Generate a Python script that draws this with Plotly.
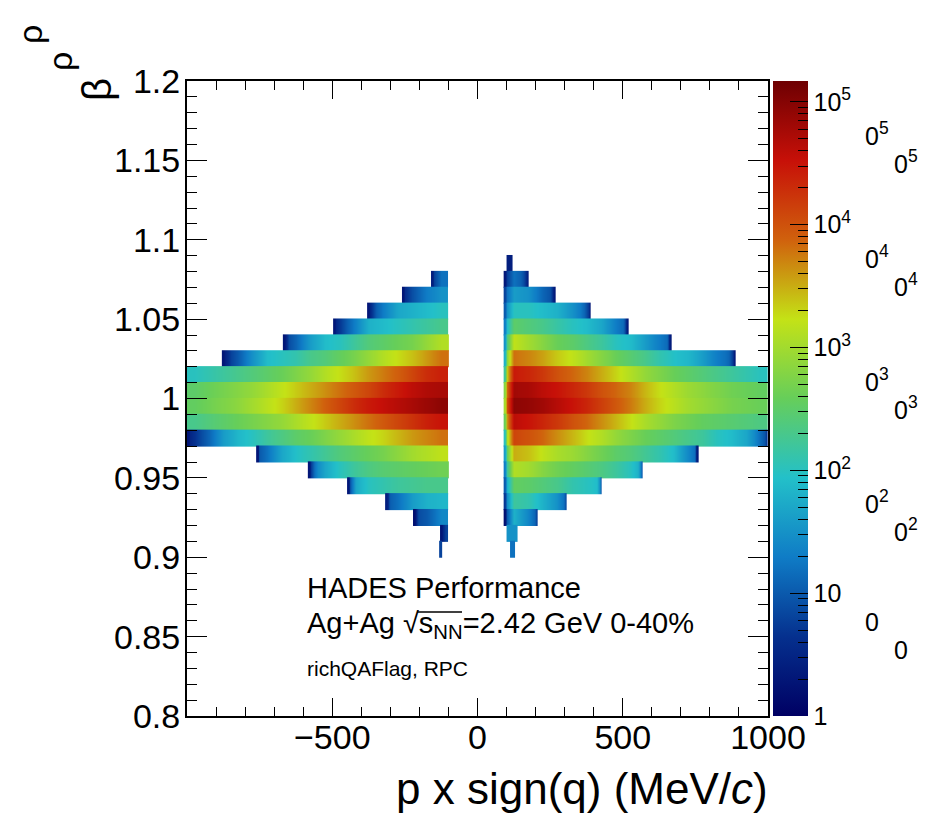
import numpy as np
import plotly.graph_objects as go

# ---------------- data ----------------
# beta bands: lower edges, bin width 0.01
beta_lo = [1.08, 1.07, 1.06, 1.05, 1.04, 1.03, 1.02, 1.01, 1.00, 0.99,
           0.98, 0.97, 0.96, 0.95, 0.94, 0.93, 0.92, 0.91, 0.90]
BETA_W = 0.01

# negative side (p < 0), given in |p| (MeV/c)
neg_inner = [None, 100, 100, 100, 100, 100, 100, 100, 100, 100,
             100, 100, 100, 100, 100, 100, 100, 100, 122]
neg_outer = [None, 160, 260, 380, 497, 670, 880, 1000, 1000, 1000,
             1000, 1000, 762, 584, 449, 318, 222, 129, 132]
neg_edge = [None, 0.4, 0.3, 0.3, 0.3, 0.3, 0.3, None, None, None,
            None, 0.3, 0.3, 0.3, 0.3, 0.4, 0.2, 0.3, None]
# log10(counts) in 50 MeV/c bins, from the inner edge outwards
neg_vals = [
    None,
    [1.2],
    [1.5, 1.3, 0.9],
    [2.0, 1.9, 1.8, 1.7, 1.3, 0.8],
    [2.3, 2.2, 2.1, 2.0, 1.9, 1.8, 1.3, 0.8],
    [3.1, 2.9, 2.7, 2.6, 2.5, 2.4, 2.2, 2.0, 1.9, 1.6, 1.1, 0.7],
    [3.8, 3.6, 3.4, 3.25, 3.1, 2.9, 2.7, 2.55, 2.4, 2.3, 2.1, 2.0, 1.9, 1.5, 1.0, 0.6],
    [4.4, 4.3, 4.1, 3.9, 3.75, 3.6, 3.4, 3.25, 3.1, 2.9, 2.75, 2.6, 2.5, 2.4, 2.3, 2.2, 2.1, 2.0],
    [4.75, 4.7, 4.6, 4.45, 4.3, 4.1, 3.95, 3.8, 3.65, 3.5, 3.35, 3.2, 3.05, 2.9, 2.8, 2.7, 2.6, 2.5],
    [4.95, 4.85, 4.75, 4.65, 4.55, 4.45, 4.3, 4.1, 3.9, 3.7, 3.5, 3.3, 3.15, 3.0, 2.85, 2.75, 2.65, 2.55],
    [4.5, 4.4, 4.25, 4.1, 3.95, 3.8, 3.65, 3.5, 3.35, 3.2, 3.05, 2.9, 2.8, 2.7, 2.6, 2.5, 2.4, 2.3],
    [3.8, 3.7, 3.6, 3.45, 3.3, 3.2, 3.05, 2.9, 2.75, 2.6, 2.5, 2.35, 2.2, 2.0, 1.85, 1.6, 1.1, 0.7],
    [3.2, 3.1, 3.0, 2.85, 2.7, 2.6, 2.5, 2.4, 2.25, 2.1, 1.95, 1.7, 1.2, 0.8],
    [2.65, 2.6, 2.55, 2.5, 2.45, 2.35, 2.2, 2.0, 1.7, 1.2],
    [2.3, 2.3, 2.25, 2.2, 2.1, 2.0, 1.7],
    [1.85, 1.8, 1.6, 1.2, 0.9],
    [1.4, 1.0, 0.8],
    [0.8],
    [0.8],
]

# positive side (p > 0)
pos_strip = [None, 0.3, 0.8, 1.0, 1.3, 1.5, 1.8, 2.2, 2.8, 3.0,
             2.6, 2.0, 1.6, 1.3, 1.0, 0.7, 0.2, None, None]   # 90-100 MeV/c strip
pos_inner = [100, 100, 100, 100, 100, 100, 100, 100, 100, 100,
             100, 100, 100, 100, 100, 100, 100, 100, 112]
pos_outer = [119, 177, 270, 391, 521, 669, 890, 1000, 1000, 1000,
             1000, 1000, 762, 570, 429, 308, 208, 139, 129]
pos_edge = [None, 0.4, 0.3, 0.3, 0.3, 0.3, 0.3, None, None, None,
            None, 0.7, 0.3, 1.0, 1.0, 0.9, 0.8, None, None]
pos_vals = [
    [0.4],
    [1.2, 0.9],
    [1.6, 1.5, 1.1, 0.8],
    [2.0, 2.0, 1.9, 1.8, 1.5, 1.1],
    [2.5, 2.4, 2.3, 2.15, 2.0, 1.9, 1.7, 1.3, 1.0],
    [3.2, 3.0, 2.8, 2.6, 2.5, 2.35, 2.2, 2.0, 1.9, 1.6, 1.3, 1.0],
    [3.8, 3.7, 3.55, 3.35, 3.2, 3.0, 2.8, 2.6, 2.45, 2.3, 2.1, 1.95, 1.85, 1.6, 1.3, 1.1],
    [4.45, 4.35, 4.2, 4.0, 3.85, 3.7, 3.5, 3.3, 3.1, 2.9, 2.75, 2.6, 2.5, 2.4, 2.3, 2.2, 2.1, 2.0],
    [4.8, 4.75, 4.6, 4.5, 4.35, 4.2, 4.0, 3.85, 3.7, 3.45, 3.25, 3.1, 2.95, 2.85, 2.75, 2.65, 2.6, 2.55],
    [4.95, 4.9, 4.8, 4.65, 4.5, 4.35, 4.15, 3.95, 3.75, 3.5, 3.3, 3.15, 3.0, 2.9, 2.8, 2.7, 2.65, 2.6],
    [4.6, 4.5, 4.35, 4.2, 4.0, 3.85, 3.65, 3.45, 3.25, 3.05, 2.9, 2.75, 2.65, 2.55, 2.5, 2.45, 2.4, 2.35],
    [4.1, 4.0, 3.85, 3.65, 3.45, 3.25, 3.1, 2.9, 2.75, 2.6, 2.5, 2.4, 2.3, 2.2, 2.0, 1.9, 1.7, 1.2],
    [3.5, 3.4, 3.2, 3.05, 2.95, 2.8, 2.65, 2.5, 2.4, 2.25, 2.1, 1.9, 1.4, 0.9],
    [3.1, 3.0, 2.8, 2.65, 2.55, 2.45, 2.35, 2.2, 2.0, 1.6],
    [2.55, 2.5, 2.4, 2.3, 2.1, 2.0, 1.9],
    [2.2, 2.1, 1.8, 1.5],
    [1.8, 1.4],
    [1.5],
    [1.2],
]

Z_MAX = 5.17          # log10 of colour-axis maximum
cb_decades = [0, 1, 2, 3, 4, 5]
cb_labels = ["1", "10", "10<sup>2</sup>", "10<sup>3</sup>", "10<sup>4</sup>", "10<sup>5</sup>"]
y_ticks = [0.8, 0.85, 0.9, 0.95, 1.0, 1.05, 1.1, 1.15, 1.2]
y_labels = ["0.8", "0.85", "0.9", "0.95", "1", "1.05", "1.1", "1.15", "1.2"]
x_ticks = [-1000, -500, 0, 500, 1000]
x_labels = ["", "\u2212500", "0", "500", "1000"]

# ROOT kRainBow palette
palette = [(0, 0, 99), (5, 48, 142), (15, 124, 198), (35, 192, 201), (102, 206, 90),
           (196, 226, 22), (208, 97, 13), (199, 16, 8), (110, 0, 2)]
colorscale = [[i / (len(palette) - 1), "rgb(%d,%d,%d)" % c] for i, c in enumerate(palette)]

FONT = "Liberation Sans, Arial, Helvetica, sans-serif"
EDGE_W = 10
SEAM = 0.0004   # tiny overlap between adjacent bands to avoid anti-aliasing seams


def side_bins(inner, outer, edge, vals, strip=None):
    last = outer - EDGE_W if edge is not None else outer
    e = [inner] + [m for m in range(150, 1000, 50) if inner < m < last] + [last]
    z = list(vals)[:len(e) - 1]
    while len(z) < len(e) - 1:
        z.append(z[-1])
    if edge is not None:
        e.append(outer)
        z.append(edge)
    if strip is not None:
        e = [inner - 10] + e
        z = [strip] + z
    return e, z


fig = go.Figure()
for i, b in enumerate(beta_lo):
    yb = [b - SEAM, round(b + BETA_W / 2, 4), b + BETA_W + SEAM]
    if neg_inner[i] is not None:
        e, z = side_bins(neg_inner[i], neg_outer[i], neg_edge[i], neg_vals[i])
        xe = [-v for v in e[::-1]]
        zr = z[::-1]
        fig.add_trace(go.Heatmap(x=xe, y=yb, z=[zr, zr], coloraxis="coloraxis",
                                 hoverinfo="skip", zsmooth="best"))
    e, z = side_bins(pos_inner[i], pos_outer[i], pos_edge[i], pos_vals[i], pos_strip[i])
    fig.add_trace(go.Heatmap(x=e, y=yb, z=[z, z], coloraxis="coloraxis",
                             hoverinfo="skip", zsmooth="best"))

# dummy trace carrying the minor-tick colour bar (transparent)
fig.add_trace(go.Scatter(x=[0], y=[0.5], mode="markers",
                         marker=dict(size=1, opacity=0, color=[0], coloraxis="coloraxis2"),
                         hoverinfo="skip", showlegend=False))

# page body has an 8 px margin; lay out in page pixels
OFF = 8
PLOT_L, PLOT_T, PLOT_R, PLOT_B = 187, 81, 768, 716
CB_L, CB_R = 773, 808
W, H = 935 - OFF, 816 - OFF
L, T = PLOT_L - OFF, PLOT_T - OFF
R = W - (CB_R - OFF)
B = H - (PLOT_B - OFF)
PW = CB_R - PLOT_L
PH = PLOT_B - PLOT_T


def px_x(px):
    return (px - PLOT_L) / PW


def px_y(py):
    return 1 - (py - PLOT_T) / PH


minor_vals = [np.log10(m * 10 ** d) for d in range(0, 6) for m in range(2, 10) if m * 10 ** d < 10 ** Z_MAX]

cb_common = dict(thickness=CB_R - CB_L, thicknessmode="pixels",
                 len=1, lenmode="fraction", y=0.5, yanchor="middle",
                 x=px_x(CB_L), xanchor="left", xpad=0, ypad=0,
                 outlinewidth=0, ticks="inside", tickcolor="black", tickwidth=1)

fig.update_layout(
    width=W, height=H, autosize=False,
    margin=dict(l=L, r=R, t=T, b=B, pad=0),
    paper_bgcolor="white", plot_bgcolor="white",
    font=dict(family=FONT, color="black"),
    showlegend=False,
    coloraxis=dict(colorscale=colorscale, cmin=0, cmax=Z_MAX,
                   colorbar=dict(**cb_common, ticklen=18, tickmode="array",
                                 tickvals=cb_decades, ticktext=cb_labels,
                                 tickfont=dict(size=25, family=FONT, color="black"))),
    coloraxis2=dict(colorscale=[[0, "rgba(0,0,0,0)"], [1, "rgba(0,0,0,0)"]], cmin=0, cmax=Z_MAX,
                    colorbar=dict(**cb_common, ticklen=10, tickmode="array",
                                  tickvals=minor_vals, showticklabels=False)),
    xaxis=dict(range=[-1000, 1000], domain=[0, px_x(PLOT_R)],
               showline=True, linecolor="black", linewidth=2, mirror="ticks",
               ticks="inside", ticklen=18, tickwidth=1, tickcolor="black",
               tickmode="array", tickvals=x_ticks, ticktext=x_labels,
               tickfont=dict(size=34, family=FONT, color="black"),
               ticklabelstandoff=-10,
               minor=dict(ticks="inside", ticklen=9, tickwidth=1, tickcolor="black",
                          tickvals=[v for v in range(-900, 1000, 100) if v % 500 != 0]),
               showgrid=False, zeroline=False, fixedrange=True),
    yaxis=dict(range=[0.8, 1.2],
               showline=True, linecolor="black", linewidth=2, mirror="ticks",
               ticks="inside", ticklen=20, tickwidth=1, tickcolor="black",
               tickmode="array", tickvals=y_ticks, ticktext=y_labels,
               tickfont=dict(size=34, family=FONT, color="black"),
               ticklabelstandoff=-2,
               minor=dict(ticks="inside", ticklen=10, tickwidth=1, tickcolor="black",
                          tickvals=[round(0.8 + 0.01 * k, 3) for k in range(41) if k % 5 != 0]),
               showgrid=False, zeroline=False, fixedrange=True),
)

ann = []
# axis titles
ann.append(dict(text="\u03b2", x=px_x(97), y=px_y(90), xref="paper", yref="paper",
                textangle=-90, showarrow=False, xanchor="center", yanchor="middle",
                font=dict(size=40, family=FONT)))
for gx, gy in [(60, 62), (30, 35)]:
    ann.append(dict(text="\u03c1", x=px_x(gx), y=px_y(gy), xref="paper", yref="paper",
                    textangle=-90, showarrow=False, xanchor="center", yanchor="middle",
                    font=dict(size=34, family=FONT)))
ann.append(dict(text="p x sign(q) (MeV/<i>c</i>)", x=px_x(770), y=px_y(788),
                xref="paper", yref="paper", showarrow=False,
                xanchor="right", yanchor="middle", font=dict(size=44, family=FONT)))
# legend text
ann.append(dict(text="HADES Performance", x=px_x(305), y=px_y(588), xref="paper", yref="paper",
                showarrow=False, xanchor="left", yanchor="middle", font=dict(size=29, family=FONT)))
ann.append(dict(text="Ag+Ag \u221as<sub>NN</sub>=2.42 GeV 0-40%",
                x=px_x(305), y=px_y(625), xref="paper", yref="paper",
                showarrow=False, xanchor="left", yanchor="middle", font=dict(size=29, family=FONT)))
ann.append(dict(text="richQAFlag, RPC", x=px_x(305), y=px_y(668), xref="paper", yref="paper",
                showarrow=False, xanchor="left", yanchor="middle", font=dict(size=21, family=FONT)))
# ghost colour-bar labels
for k in range(1, 6):
    txt = "0" if k == 1 else "0<sup>%d</sup>" % k
    for gx, dy in [(863, -29), (892, -57)]:
        ann.append(dict(text=txt, x=px_x(gx), y=k / Z_MAX, xref="paper", yref="paper",
                        yshift=dy - (0 if k == 1 else 3), showarrow=False,
                        xanchor="left", yanchor="middle",
                        font=dict(size=25, family=FONT)))
fig.update_layout(annotations=ann)

# overline of the square-root sign
fig.add_shape(type="line", xref="paper", yref="paper",
              x0=px_x(417), x1=px_x(462), y0=px_y(612), y1=px_y(612),
              line=dict(color="black", width=1.5))

fig.write_html("out.html")
